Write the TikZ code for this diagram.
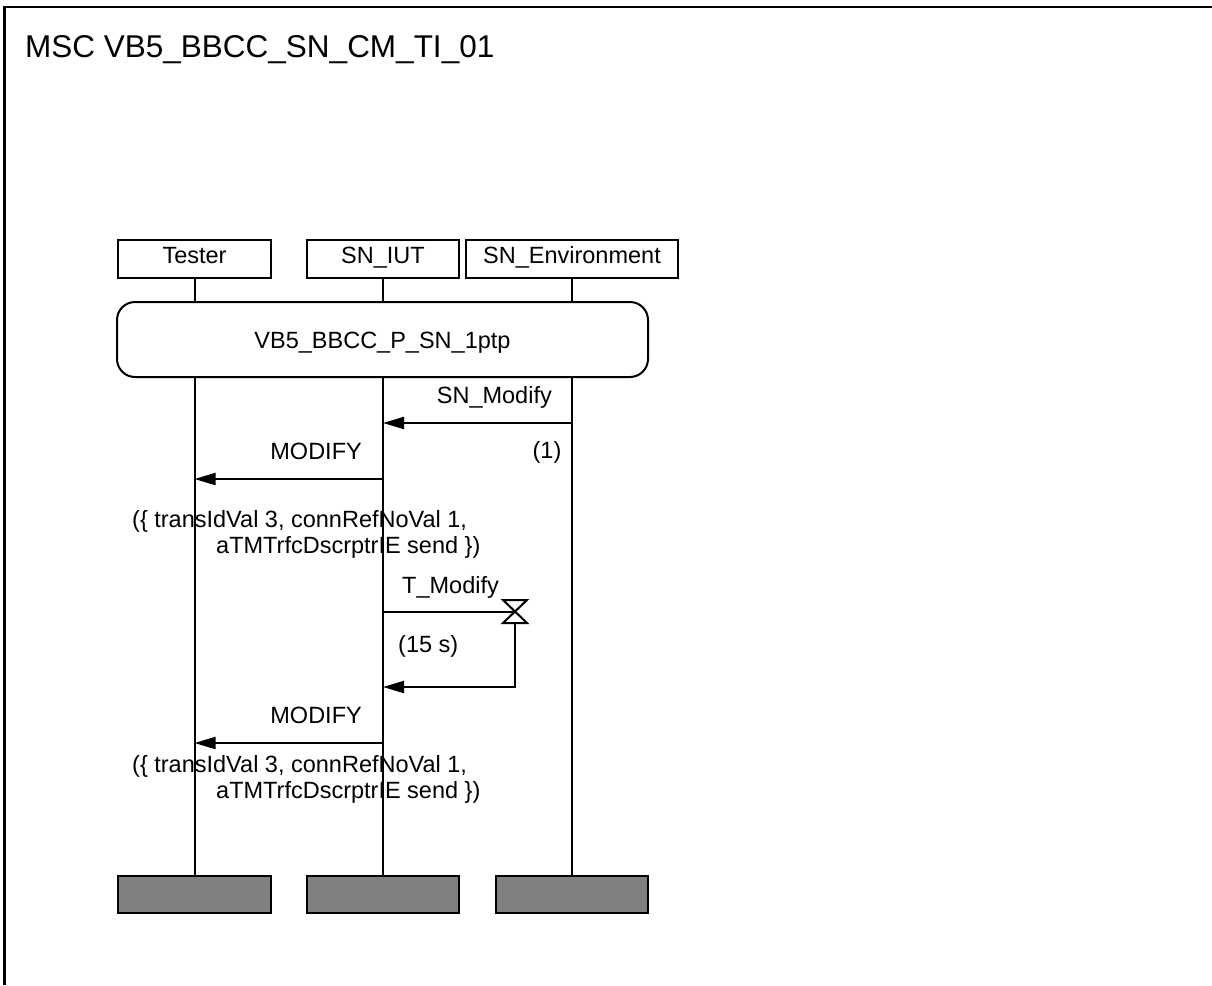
\documentclass[tikz,border=0pt]{standalone}
\usepackage{fontspec}
\setmainfont{Liberation Sans}
\usetikzlibrary{arrows.meta}
\begin{document}
\begin{tikzpicture}[x=1pt,y=-1pt,
  lbl/.style={font=\fontsize{23.5}{28}\selectfont, inner sep=0pt},
  headbox/.style={draw, line width=2pt, minimum height=38pt, inner sep=0pt, text height=16pt, text depth=8pt, font=\fontsize{23.5}{28}\selectfont},
  endbox/.style={draw, line width=2pt, fill=gray, minimum height=37pt, inner sep=0pt},
  life/.style={line width=2pt},
  msg/.style={line width=2pt, -{Triangle[length=21pt,width=12pt]}}
]
\useasboundingbox (0,0) rectangle (1212,985);
% frame
\draw[line width=2.7pt] (4.7,985) -- (4.7,7) -- (1212,7);
\node[anchor=base west, inner sep=0pt, font=\fontsize{31.5}{36}\selectfont] (title) at (25,57) {MSC VB5\_BBCC\_SN\_CM\_TI\_01};
% headers
\node[headbox, minimum width=153pt] (tester) at (194.5,259) {Tester};
\node[headbox, minimum width=152pt] (iut) at (383,259) {SN\_IUT};
\node[headbox, minimum width=212pt] (env) at (572,259) {SN\_Environment};
% reference
\node[draw, line width=2pt, rounded corners=18pt, minimum width=531pt, minimum height=75pt, inner sep=0pt, text height=17pt, text depth=0pt, font=\fontsize{23.5}{28}\selectfont] (ref) at (382.5,339.5) {VB5\_BBCC\_P\_SN\_1ptp};
% end boxes
\node[endbox, minimum width=153pt] (etester) at (194.5,894.5) {};
\node[endbox, minimum width=152pt] (eiut) at (383,894.5) {};
\node[endbox, minimum width=152pt] (eenv) at (572,894.5) {};
% lifelines
\draw[life] (tester.south) -- (tester.south|-ref.north);
\draw[life] (iut.south) -- (iut.south|-ref.north);
\draw[life] (env.south) -- (env.south|-ref.north);
\draw[life] (tester.south|-ref.south) -- (etester.north);
\draw[life] (iut.south|-ref.south) -- (eiut.north);
\draw[life] (env.south|-ref.south) -- (eenv.north);
% SN_Modify
\coordinate (m1s) at (572,423);
\coordinate (m1e) at (383,423);
\draw[msg] (m1s) -- (m1e);
\node[lbl, anchor=base east] (l1) at (552,403) {SN\_Modify};
\node[lbl, anchor=base] (one) at (547,458) {(1)};
% MODIFY 1
\coordinate (m2s) at (383,479);
\coordinate (m2e) at (194.5,479);
\draw[msg] (m2s) -- (m2e);
\node[lbl, anchor=base east] (l2) at (362,459) {MODIFY};
\node[lbl, anchor=base west] (p1a) at (132,527) {(\{ transIdVal 3, connRefNoVal 1,};
\node[lbl, anchor=base west] (p1b) at (216,553) {aTMTrfcDscrptrIE send \})};
% timer
\coordinate (ts) at (383,611.5);
\coordinate (tc) at (515,611.5);
\draw[life] (ts) -- (tc);
\draw[line width=2pt, line join=miter] (503,600) -- (527,600) -- (503,623) -- (527,623) -- cycle;
\node[lbl, anchor=base west] (tl) at (402,593) {T\_Modify};
\node[lbl, anchor=base west] (tdur) at (398,652) {(15 s)};
\coordinate (tb) at (515,623);
\coordinate (tcorner) at (515,687);
\coordinate (te) at (383,687);
\draw[msg] (tb) -- (tcorner) -- (te);
% MODIFY 2
\coordinate (m3s) at (383,743);
\coordinate (m3e) at (194.5,743);
\draw[msg] (m3s) -- (m3e);
\node[lbl, anchor=base east] (l3) at (362,723) {MODIFY};
\node[lbl, anchor=base west] (p2a) at (132,772) {(\{ transIdVal 3, connRefNoVal 1,};
\node[lbl, anchor=base west] (p2b) at (216,798) {aTMTrfcDscrptrIE send \})};
\end{tikzpicture}
\end{document}
